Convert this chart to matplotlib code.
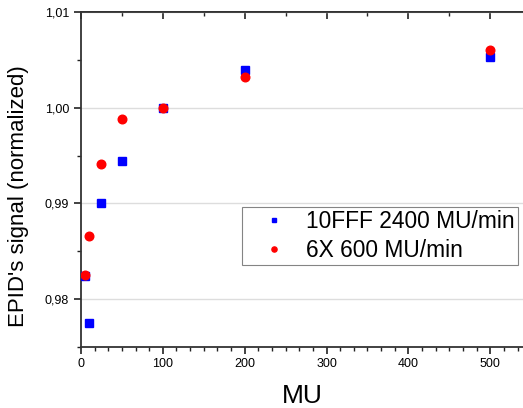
import matplotlib
matplotlib.use("Agg")
import matplotlib.pyplot as plt
from matplotlib.ticker import MultipleLocator

plt.rcParams['font.family'] = ['Liberation Sans', 'DejaVu Sans']

# 10FFF 2400 MU/min
mu_fff = [5, 10, 25, 50, 100, 200, 500]
sig_fff = [0.9824, 0.97746, 0.9900, 0.99440, 1.0000, 1.00390, 1.00526]

# 6X 600 MU/min
mu_6x = [5, 10, 25, 50, 100, 200, 500]
sig_6x = [0.98251, 0.98658, 0.99415, 0.99885, 1.0000, 1.00321, 1.00603]

fig = plt.figure(figsize=(5.23, 4.08), dpi=100)
ax = fig.add_axes([81/523, (408-347)/408, (523-81)/523, (347-12)/408])

ax.plot(mu_fff, sig_fff, 's', color='#0000ff', ms=5.2, mec='#0000ff',
        label='10FFF 2400 MU/min', zorder=3)
ax.plot(mu_6x, sig_6x, 'o', color='#ff0000', ms=6.2, mec='#ff0000',
        label='6X 600 MU/min', zorder=4)

ax.set_xlim(0, 540)
ax.set_ylim(0.975, 1.01)

ax.xaxis.set_major_locator(MultipleLocator(100))
ax.xaxis.set_minor_locator(MultipleLocator(100/6))
ax.yaxis.set_major_locator(MultipleLocator(0.01))
ax.yaxis.set_minor_locator(MultipleLocator(0.005))

fmt = lambda v, p: ('%.2f' % v).replace('.', ',')
ax.yaxis.set_major_formatter(plt.FuncFormatter(fmt))

ax.tick_params(axis='both', which='major', direction='out', length=5,
               width=1.2, labelsize=9, color='#222222')
ax.tick_params(axis='both', which='minor', direction='out', length=3,
               width=1.0, color='#222222')
ax.tick_params(axis='x', pad=3)

ax.grid(axis='y', which='major', color='#dddddd', lw=1.0, zorder=0)
ax.set_axisbelow(True)

for s in ['left', 'bottom', 'top']:
    ax.spines[s].set_linewidth(1.3)
    ax.spines[s].set_color('#333333')
ax.spines['right'].set_visible(False)

top = ax.secondary_xaxis('top')
top.xaxis.set_major_locator(MultipleLocator(100))
top.xaxis.set_minor_locator(MultipleLocator(50))
top.tick_params(which='major', direction='in', length=5, width=1.2,
                labeltop=False, color='#222222')
top.tick_params(which='minor', direction='in', length=3, width=1.0,
                color='#222222')
top.spines['top'].set_linewidth(1.3)
top.spines['top'].set_color('#333333')

ax.set_xlabel('MU', fontsize=19, labelpad=10)
ax.set_ylabel("EPID's signal (normalized)", fontsize=16)
ax.yaxis.set_label_coords(-0.118, 0.45)

leg = ax.legend(loc='upper right', bbox_to_anchor=(0.988, 0.418),
                fontsize=16.4, markerscale=0.6, frameon=True, fancybox=False,
                edgecolor='#666666', handletextpad=0.1, borderpad=0.12,
                labelspacing=0.28, handlelength=2.6, borderaxespad=0)
leg.get_frame().set_linewidth(0.8)

fig.savefig('out.png', dpi=100)
